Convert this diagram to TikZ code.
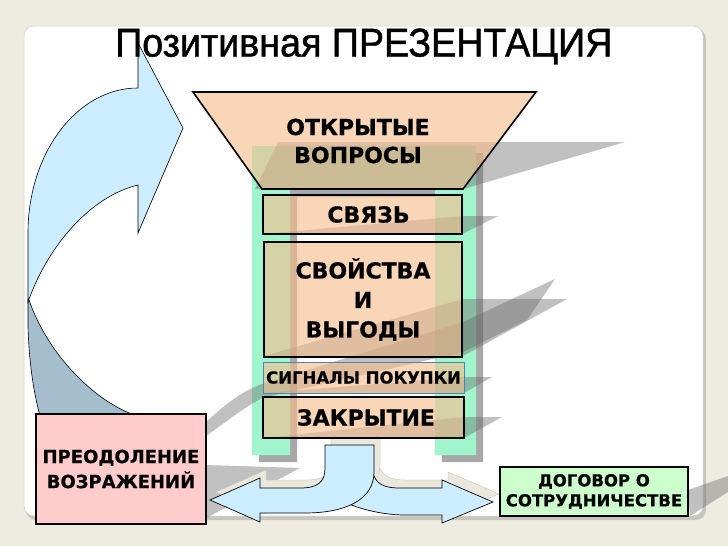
\documentclass[tikz,border=0pt]{standalone}
\usepackage{fontspec}
\usepackage{graphicx}
\newfontfamily\tfont{Liberation Sans}[FakeBold=1.2]
\newfontfamily\bfont{DejaVu Sans Bold}[FakeBold=0.6]
\definecolor{bgc}{RGB}{238,236,225}
\definecolor{peachF}{RGB}{247,190,142}
\definecolor{mint}{RGB}{160,245,205}
\definecolor{lblue}{RGB}{204,236,255}
\definecolor{dblue}{RGB}{165,190,206}
\definecolor{pinkc}{RGB}{255,204,204}
\definecolor{greenc}{RGB}{204,255,204}
\definecolor{sigc}{RGB}{79,129,189}
\definecolor{beigec}{RGB}{234,232,220}
\definecolor{streakc}{RGB}{105,105,105}
\definecolor{frshadow}{RGB}{168,168,168}
\begin{document}
\begin{tikzpicture}[x=1pt,y=-1pt,
  pbox/.style={draw=black, line width=1.6pt, fill=peachF, fill opacity=0.62, text opacity=1,
    inner sep=0pt, align=center, font=\bfont\fontsize{22}{29.5}\selectfont},
  solidbox/.style={draw=black, line width=1.6pt, inner sep=0pt, align=center},
  streak/.style={fill=streakc, fill opacity=0.42, draw=none},
  blockarrow/.style={fill=lblue, draw=black, line width=0.7pt, line join=miter},
  beigecopy/.style={fill=beigec, draw={rgb,255:red,205;green,203;blue,192}, line width=0.5pt},
  trap/.style={draw=black, line width=1.6pt, fill=peachF, fill opacity=0.62, line join=miter}
]
\useasboundingbox (0,0) rectangle (728,546);
% background and panel
\fill[bgc] (0,0) rectangle (728,546);
\fill[black, opacity=0.16, rounded corners=10pt] (26,29) rectangle (706,520);
\filldraw[fill=white, draw={rgb,255:red,205;green,205;blue,205}, line width=0.5pt, rounded corners=10pt] (24,26) rectangle (703,516);

% green frame with its shadow
\fill[frshadow] (259,462) -- (259,153) -- (483,153) -- (483,462) -- (442,462) -- (442,197) -- (297,197) -- (297,462) -- cycle;
\fill[mint] (252,455) -- (252,146) -- (476,146) -- (476,455) -- (435,455) -- (435,190) -- (290,190) -- (290,455) -- cycle;

% big curved arrow (light face and dark underside)
\draw[fill=dblue, draw=black, line width=0.6pt] (28,300) -- (28,327) .. controls (29,360) and (33,390) .. (40,416) -- (137,416) .. controls (95,402) and (48,355) .. (29,300) -- cycle;
\draw[fill=lblue, draw=black, line width=0.6pt, line join=miter] (138,88) .. controls (77,88) and (28,153) .. (28,233) -- (28,302) .. controls (50,240) and (95,195) .. (138,185) -- (138,233) -- (183,128) -- (138,43) -- cycle;

% perspective shadows
\fill[streak] (255,189) -- (278,142) -- (625,142) -- (463,189) -- cycle;
\fill[streak] (263,234) -- (463,216) -- (498,216) -- (462,234) -- cycle;
\fill[streak] (206,422) .. controls (225,405) and (240,392) .. (262,384) -- (463,322) -- (555,279) -- (527,320) -- (463,352) -- (262,398) .. controls (240,410) and (222,425) .. (206,436) -- cycle;
\fill[streak] (264,356) -- (463,299) -- (567,299) -- (463,356) -- cycle;
\fill[streak] (263,393) -- (464,377) -- (492,377) -- (464,393) -- cycle;
\fill[streak] (263,438) -- (463,417) -- (502,417) -- (464,438) -- cycle;
\fill[streak] (206,465) -- (300,468) -- (206,518) -- cycle;
\fill[streak] (688,490) -- (728,476) -- (728,492) -- (690,516) -- cycle;

% split arrow: light copies behind
\begin{scope}[shift={(6,-8)}]
\draw[beigecopy] (370,470) -- (374,476) .. controls (378,486) and (388,488) .. (400,488) -- (442,488) -- (442,480) -- (493,502) -- (442,523) -- (442,515) -- (405,515) .. controls (385,515) and (360,510) .. (340,500) -- cycle;
\draw[beigecopy] (325,445) -- (374,445) -- (374,472) .. controls (374,500) and (345,513) .. (305,513) -- (260,513) -- (260,522) -- (210,500) -- (260,478) -- (260,488) -- (300,488) .. controls (318,488) and (325,482) .. (325,468) -- cycle;
\end{scope}
\draw[blockarrow] (370,470) -- (374,476) .. controls (378,486) and (388,488) .. (400,488) -- (442,488) -- (442,480) -- (493,502) -- (442,523) -- (442,515) -- (405,515) .. controls (385,515) and (360,510) .. (340,500) -- cycle;
\draw[blockarrow] (325,445) -- (374,445) -- (374,472) .. controls (374,500) and (345,513) .. (305,513) -- (260,513) -- (260,522) -- (210,500) -- (260,478) -- (260,488) -- (300,488) .. controls (318,488) and (325,482) .. (325,468) -- cycle;

% funnel
\draw[trap] (193,92) -- (536,92) -- (463,189) -- (262,189) -- cycle;
\node[align=center, inner sep=0pt, font=\bfont\fontsize{22}{28}\selectfont] (oq) at (358,141) {ОТКРЫТЫЕ\\ВОПРОСЫ};

% stages
\node[pbox, minimum width=199pt, minimum height=39pt] (svz) at (362.5,214.5) {\hspace*{12pt}СВЯЗЬ};
\node[pbox, minimum width=198pt, minimum height=115pt] (svo) at (363,299.5) {СВОЙСТВА\\И\\ВЫГОДЫ};
\node[pbox, draw=sigc, line width=1pt, minimum width=201pt, minimum height=31pt, font=\bfont\fontsize{16.5}{20}\selectfont] (sig) at (363.5,377.5) {СИГНАЛЫ ПОКУПКИ};
\node[pbox, minimum width=201pt, minimum height=41pt] (zak) at (363.5,417.5) {\hspace*{5pt}ЗАКРЫТИЕ};

% outcome boxes
\node[solidbox, fill=pinkc, minimum width=170pt, minimum height=110pt, font=\bfont\fontsize{18}{25}\selectfont] (pre) at (121,469) {ПРЕОДОЛЕНИЕ\\ВОЗРАЖЕНИЙ};
\node[solidbox, fill=greenc, minimum width=188pt, minimum height=49pt, font=\bfont\fontsize{16.5}{20}\selectfont] (dog) at (594,491.5) {ДОГОВОР О\\СОТРУДНИЧЕСТВЕ};

% title
\node[anchor=base west, inner sep=0pt, text=black] (tit) at (115,56.5) {\resizebox{497pt}{28pt}{\tfont Позитивная ПРЕЗЕНТАЦИЯ}};
\end{tikzpicture}
\end{document}
